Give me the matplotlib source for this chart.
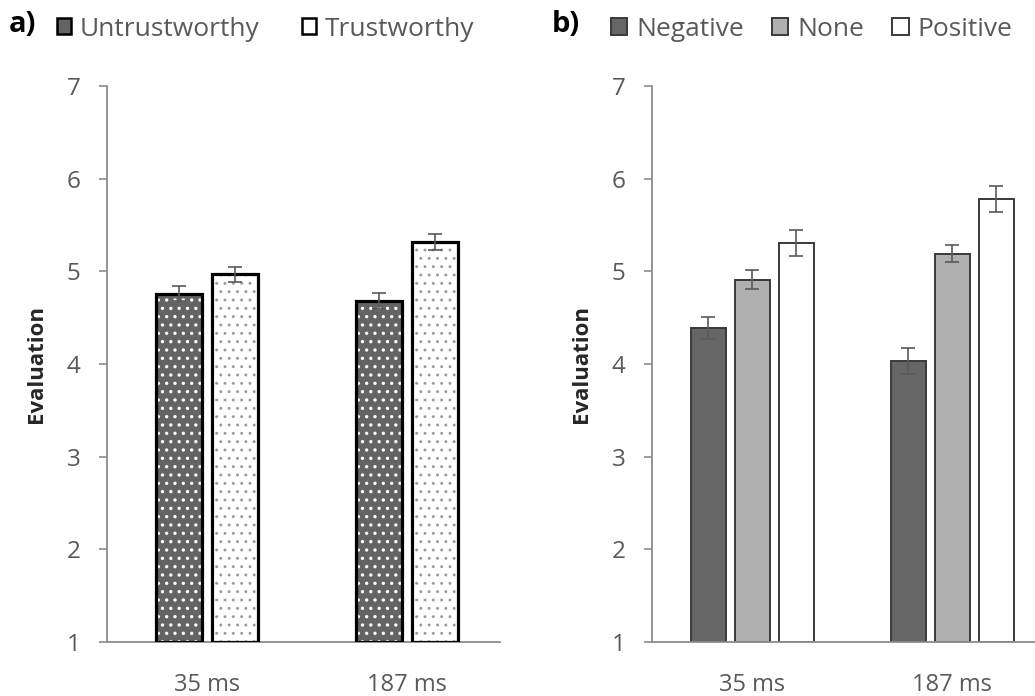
import numpy as np
import matplotlib
matplotlib.use("Agg")
import matplotlib.pyplot as plt
from matplotlib.patches import Patch

plt.rcParams["font.family"] = ["Open Sans", "DejaVu Sans"]

# data
delays = ["35 ms", "187 ms"]

# panel a
trust_labels = ["Untrustworthy", "Trustworthy"]
untrust_mean = [4.76, 4.68]
untrust_se = [0.08, 0.09]
trust_mean = [4.97, 5.32]
trust_se = [0.08, 0.085]

# panel b
valence_labels = ["Negative", "None", "Positive"]
neg_mean = [4.39, 4.03]
neg_se = [0.12, 0.14]
none_mean = [4.91, 5.19]
none_se = [0.10, 0.09]
pos_mean = [5.31, 5.78]
pos_se = [0.14, 0.14]

yticks = [1, 2, 3, 4, 5, 6, 7]

grey_txt = "#595959"
axis_col = "#8c8c8c"
err_col = "#5a5a5a"

W, H = 1035, 696
fig = plt.figure(figsize=(W / 100, H / 100), dpi=100)


def px_axes(x0, x1, ytop, ybot):
    return fig.add_axes([x0 / W, 1 - ybot / H, (x1 - x0) / W, (ybot - ytop) / H])


def style_axis(ax, xmax_bound):
    ax.set_ylim(1, 7)
    ax.set_xlim(0, 2)
    ax.set_yticks(yticks)
    ax.set_xticks([0.5, 1.5])
    ax.set_xticklabels(delays)
    for s in ["top", "right"]:
        ax.spines[s].set_visible(False)
    for s in ["left", "bottom"]:
        ax.spines[s].set_color(axis_col)
        ax.spines[s].set_linewidth(1.3)
    ax.spines["bottom"].set_bounds(0, xmax_bound)
    ax.tick_params(axis="y", length=6, width=1.2, color=axis_col, pad=13,
                   labelsize=17.5, labelcolor=grey_txt)
    ax.tick_params(axis="x", length=0, pad=22, labelsize=17, labelcolor=grey_txt)
    ax.set_ylabel("Evaluation", fontsize=16, fontweight="bold", color="#262626", labelpad=14)


# ---------- panel a ----------
axa = px_axes(107, 507, 86, 642)
x = np.arange(2) + 0.5
bw = 0.23
ekw = dict(ecolor=err_col, elinewidth=1.2, capsize=4.7, capthick=1.2)
for off, mean, se, face, dot, hlw in [(-0.142, untrust_mean, untrust_se, "#646464", "white", 1.2),
                                      (0.142, trust_mean, trust_se, "white", "#9a9a9a", 0.9)]:
    base = [m - 1 for m in mean]
    axa.bar(x + off, base, bw, bottom=1, color=face, edgecolor="none", zorder=2)
    plt.rcParams["hatch.linewidth"] = hlw
    axa.bar(x + off, base, bw, bottom=1, facecolor="none", edgecolor=dot,
            hatch="..", linewidth=0, zorder=3)
    axa.bar(x + off, base, bw, bottom=1, facecolor="none", edgecolor="black",
            linewidth=2.3, zorder=4)
    axa.errorbar(x + off, mean, yerr=se, fmt="none", zorder=5, **ekw)
style_axis(axa, 1.965)

# ---------- panel b ----------
axb = px_axes(652, 1052, 86, 642)
bw2 = 0.175
for off, mean, se, face in [(-0.22, neg_mean, neg_se, "#666666"),
                            (0.0, none_mean, none_se, "#b0b0b0"),
                            (0.22, pos_mean, pos_se, "white")]:
    base = [m - 1 for m in mean]
    axb.bar(x + off, base, bw2, bottom=1, color=face, edgecolor="#3a3a3a",
            linewidth=1.4, zorder=2)
    axb.errorbar(x + off, mean, yerr=se, fmt="none", zorder=5, **ekw)
style_axis(axb, 2.0)

# panel letters
fig.text(9 / W, 1 - 24 / H, "a)", fontsize=21, fontweight="bold", va="center", ha="left")
fig.text(552 / W, 1 - 24 / H, "b)", fontsize=21, fontweight="bold", va="center", ha="left")

# legends
h_a = [Patch(facecolor="#646464", edgecolor="black", linewidth=1.8),
       Patch(facecolor="white", edgecolor="black", linewidth=1.8)]
leg_a = fig.legend(h_a, trust_labels, loc="center left", bbox_to_anchor=(57 / W, 1 - 29 / H),
                   ncol=2, frameon=False, fontsize=19, handlelength=0.52, handleheight=0.52,
                   handletextpad=0.35, columnspacing=1.6, borderaxespad=0, borderpad=0)
for t in leg_a.get_texts():
    t.set_color(grey_txt)

h_b = [Patch(facecolor="#666666", edgecolor="#3a3a3a", linewidth=1.4),
       Patch(facecolor="#b0b0b0", edgecolor="#3a3a3a", linewidth=1.4),
       Patch(facecolor="white", edgecolor="#3a3a3a", linewidth=1.4)]
leg_b = fig.legend(h_b, valence_labels, loc="center left", bbox_to_anchor=(611 / W, 1 - 29 / H),
                   ncol=3, frameon=False, fontsize=19, handlelength=0.62, handleheight=0.62,
                   handletextpad=0.35, columnspacing=1.05, borderaxespad=0, borderpad=0)
for t in leg_b.get_texts():
    t.set_color(grey_txt)

fig.savefig("out.png", dpi=100)
plt.close(fig)
